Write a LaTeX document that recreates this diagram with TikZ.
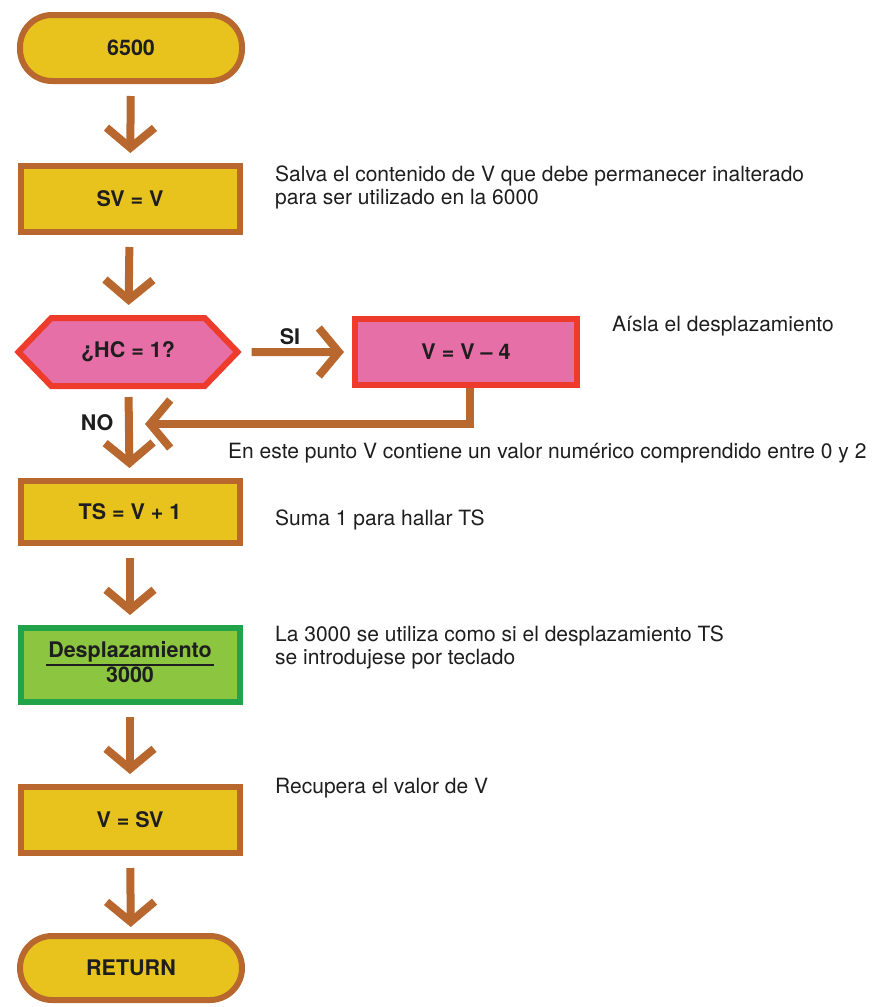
\documentclass[tikz,border=0pt]{standalone}
\usepackage{fontspec}
\setmainfont{TeX Gyre Heros}
\usetikzlibrary{arrows.meta, shapes.symbols, positioning}
\definecolor{Brown} {HTML}{B8682F}
\definecolor{Gold}  {HTML}{E8C31E}
\definecolor{RedB}  {HTML}{EE3B2C}
\definecolor{PinkF} {HTML}{E56FA6}
\definecolor{GreenB}{HTML}{22A34A}
\definecolor{GreenF}{HTML}{8CC640}
\definecolor{Ink}   {HTML}{1E1E1E}
\setlength{\arrayrulewidth}{2pt}
\newcommand{\bigtxt}{\fontsize{21}{23}\selectfont}
\newcommand{\boxtxt}{\fontsize{21.5}{24}\selectfont\bfseries}
\tikzset{
  blk/.style args={#1/#2}{
    rectangle, draw=#1, fill=#2, text=Ink,
    font=\boxtxt, align=center,
    inner sep=2pt, minimum width=219pt, minimum height=66pt,
    line width=6pt,
  },
  term/.style={
    blk=Brown/Gold, rounded corners=32pt, minimum width=222pt,
  },
  decbox/.style={
    signal, signal to=west and east, signal pointer angle=92,
    draw=RedB, fill=PinkF, text=Ink,
    font=\boxtxt, inner sep=2pt,
    minimum width=219pt, minimum height=68pt, line width=6pt,
  },
  arr/.style={
    -{Straight Barb[length=20pt,width=48pt]},
    line width=8pt, color=Brown,
  },
  lbl/.style={
    font=\boxtxt, text=Ink, inner sep=0pt,
  },
  note/.style={
    anchor=west, align=left, font=\bigtxt, text=Ink, inner sep=0pt,
  },
}

\begin{document}
\begin{tikzpicture}[x=1pt,y=-1pt]
    \useasboundingbox (0,0) rectangle (873,1007);
    % main column
    \node[term]              (start) at (131,48)  {6500};
    \node[blk=Brown/Gold]    (sv)    at (130,199) {SV = V};
    \node[decbox]            (hc)    at (128,352) {¿HC = 1?};
    \node[blk=RedB/PinkF, minimum width=222pt] (vm) at (466,352) {V = V -- 4};
    \node[blk=Brown/Gold, minimum height=62pt] (ts) at (130,512) {TS = V + 1};
    \node[blk=GreenB/GreenF, minimum height=74pt] (disp) at (130,665)
      {\begin{tabular}{@{\hspace{2pt}}c@{\hspace{2pt}}}Desplazamiento\\[-1pt]\hline 3000\end{tabular}};
    \node[blk=Brown/Gold]    (rv)    at (130,820) {V = SV};
    \node[term, minimum height=64pt] (ret) at (131,968) {RETURN};
    \coordinate (back) at (145,424);

    \draw[arr, shorten <=12pt, shorten >=10pt] (start) -- (sv);
    \draw[arr, shorten <=12pt, shorten >=10pt] (sv) -- (hc);
    \draw[arr, shorten <=10pt, shorten >=8pt]  (hc) -- (vm);
    \draw[arr, shorten <=8pt,  shorten >=10pt] (hc) -- (ts);
    \draw[arr] ([xshift=4pt]vm.south) |- (back);
    \draw[arr, shorten <=12pt, shorten >=10pt] (ts) -- (disp);
    \draw[arr, shorten <=12pt, shorten >=10pt] (disp) -- (rv);
    \draw[arr, shorten <=12pt, shorten >=6pt]  (rv) -- (ret);

    \node[lbl] (si) at (290,337) {SI};
    \node[lbl] (no) at (97,423)  {NO};

    % comments
    \node[note] (n1) at (275,187) {Salva el contenido de V que debe permanecer inalterado\\para ser utilizado en la 6000};
    \node[note] (n2) at (612,326) {Aísla el desplazamiento};
    \node[note] (n3) at (228,453) {En este punto V contiene un valor numérico comprendido entre 0 y 2};
    \node[note] (n4) at (275,520) {Suma 1 para hallar TS};
    \node[note] (n5) at (275,647) {La 3000 se utiliza como si el desplazamiento TS\\se introdujese por teclado};
    \node[note] (n6) at (275,788) {Recupera el valor de V};
  \end{tikzpicture}
\end{document}
